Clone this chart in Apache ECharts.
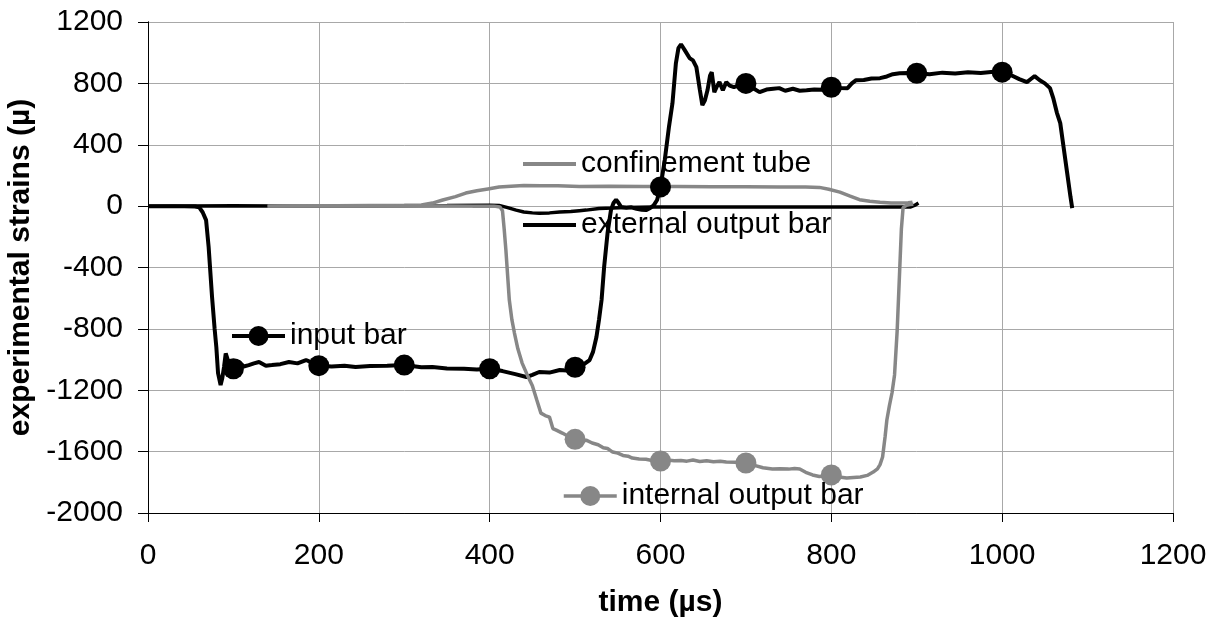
<!DOCTYPE html>
<html>
<head>
<meta charset="utf-8">
<script src="https://cdn.jsdelivr.net/npm/echarts@6/dist/echarts.min.js"></script>
<style>
  html, body { margin: 0; padding: 0; background: #fff; }
  #chart { width: 1218px; height: 628px; }
</style>
</head>
<body>
<div id="chart"></div>
<script>
// [time (µs), strain (µ)]
const inputBar = [
  [0, 0], [30, 0], [55, -2], [60, -8], [64, -40], [68, -91], [71, -267], [75, -593], [78, -800], [80, -919],
  [82, -1088], [85, -1166], [87, -1120], [89, -1049], [91, -960], [93, -951], [95, -1030], [97, -1088],
  [100, -1060], [103, -1010], [107, -1016], [112, -1045], [118, -1036], [124, -1025], [130, -1016],
  [138, -1040], [145, -1036], [155, -1030], [165, -1016], [175, -1025], [185, -1003], [192, -1020],
  [200, -1040], [215, -1045], [230, -1040], [243, -1049], [260, -1042], [280, -1040], [300, -1036],
  [320, -1050], [333, -1049], [350, -1058], [370, -1060], [385, -1065], [400, -1060], [415, -1075],
  [430, -1095], [443, -1114], [450, -1100], [458, -1081], [470, -1085], [482, -1068], [490, -1072],
  [500, -1050], [508, -1040], [517, -1003], [521, -950], [525, -853], [528, -740], [531, -612],
  [534, -397], [538, -176], [542, -26], [545, 20], [548, 42], [551, 20], [554, -6], [560, -10],
  [566, -8], [572, -18], [578, -24], [583, -26], [588, -12], [592, 5], [596, 40], [600, 125],
  [605, 300], [610, 520], [614, 670], [618, 930], [621, 1030], [624, 1055], [628, 1020], [634, 965],
  [638, 950], [642, 906], [646, 760], [649, 658], [652, 690], [655, 755], [658, 850], [660, 873],
  [663, 743], [666, 780], [669, 808], [673, 755], [677, 808], [681, 785], [686, 775], [692, 790],
  [700, 800], [708, 770], [716, 743], [724, 760], [732, 765], [739, 769], [746, 752], [755, 765],
  [763, 752], [771, 755], [780, 760], [790, 758], [800, 775], [810, 770], [819, 769], [824, 800],
  [829, 821], [838, 822], [847, 832], [857, 834], [865, 845], [872, 860], [880, 866], [890, 868],
  [900, 866], [915, 860], [930, 870], [945, 865], [960, 872], [975, 868], [990, 875], [1000, 873],
  [1010, 855], [1020, 828], [1029, 808], [1034, 830], [1038, 847], [1044, 820], [1050, 800],
  [1056, 769], [1060, 700], [1064, 610], [1068, 541], [1072, 380], [1076, 220], [1080, 60], [1082, -13]
];

const externalOutputBar = [
  [0, 0], [100, 2], [200, 0], [300, 3], [350, 4], [400, 6], [411, 4], [420, -8], [431, -26],
  [440, -38], [450, -44], [458, -46], [470, -44], [482, -39], [495, -35], [505, -30], [513, -26],
  [528, -15], [544, -13], [560, -9], [575, -7], [591, -6], [650, -6], [700, -6], [750, -6],
  [800, -6], [850, -6], [880, -6], [893, -5], [898, 6], [902, 20]
];

const confinementTube = [
  [140, 0], [180, 2], [220, 3], [260, 4], [300, 5], [320, 8], [333, 20], [345, 40], [360, 62],
  [372, 85], [385, 100], [398, 112], [411, 124], [425, 130], [440, 134], [460, 133], [480, 132],
  [505, 128], [540, 130], [580, 128], [620, 128], [660, 127], [700, 126], [740, 125], [770, 124],
  [786, 122], [797, 110], [810, 91], [822, 65], [833, 42], [845, 32], [857, 26], [870, 21],
  [880, 20], [890, 22], [895, 26]
];

const internalOutputBar = [
  [140, 0], [200, 2], [260, 0], [320, 2], [380, 0], [405, 0], [412, -5], [415, -30], [417, -150],
  [419, -287], [421, -450], [423, -612], [426, -740], [429, -827], [433, -930], [438, -1023],
  [444, -1100], [450, -1170], [455, -1260], [460, -1349], [465, -1365], [470, -1375], [474, -1450],
  [478, -1460], [485, -1479], [492, -1500], [500, -1520], [508, -1535], [513, -1525], [520, -1544],
  [527, -1555], [533, -1575], [538, -1580], [544, -1603], [550, -1610], [556, -1625], [562, -1630],
  [567, -1642], [575, -1648], [583, -1650], [590, -1658], [600, -1661], [608, -1655], [616, -1660],
  [624, -1658], [631, -1662], [638, -1655], [646, -1664], [654, -1660], [662, -1666], [670, -1663],
  [677, -1668], [688, -1670], [700, -1674], [710, -1690], [720, -1705], [731, -1713], [740, -1712],
  [750, -1714], [757, -1710], [763, -1713], [770, -1735], [778, -1752], [786, -1762], [800, -1752],
  [809, -1765], [818, -1772], [826, -1768], [834, -1765], [842, -1755], [849, -1733], [854, -1712],
  [857, -1685], [860, -1635], [863, -1500], [865, -1394], [868, -1300], [871, -1218], [874, -1100],
  [877, -820], [880, -420], [882, -150], [884, -10], [888, 5], [892, 10], [896, 12]
];

const inputMarkers = [100, 200, 300, 400, 500, 600, 700, 800, 900, 1000];
const internalMarkers = [500, 600, 700, 800];

const xTicks = { min: 0, max: 1200, interval: 200 };
const yTicks = { min: -2000, max: 1200, interval: 400 };

const FONT = "'Liberation Sans', Arial, sans-serif";
const GRAY = '#878787';
const GRID = '#a8a8a8';

const chart = echarts.init(document.getElementById('chart'));

function markerSize(list, size) {
  return function (val) {
    return list.indexOf(val[0]) >= 0 ? size : 0;
  };
}

function legendAt(name, left, top, opts) {
  return Object.assign({
    data: [name],
    left: left,
    top: top,
    padding: 0,
    itemWidth: 53,
    itemHeight: 4,
    icon: 'rect',
    textStyle: { fontFamily: FONT, fontSize: 30, color: '#000', lineHeight: 30 },
    selectedMode: false
  }, opts || {});
}

const plain = function (v) { return String(v); };

chart.setOption({
  animation: false,
  backgroundColor: '#fff',
  textStyle: { fontFamily: FONT },
  grid: { left: 148, right: 45, top: 22, bottom: 115, containLabel: false, outerBoundsMode: 'none' },
  legend: [
    legendAt('confinement tube', 523, 149),
    legendAt('external output bar', 523, 210),
    legendAt('input bar', 230, 321, { icon: null, itemHeight: 25, lineStyle: { width: 4 } }),
    legendAt('internal output bar', 562, 481, { icon: null, itemHeight: 25, lineStyle: { width: 3.5 } })
  ],
  xAxis: {
    type: 'value',
    min: xTicks.min,
    max: xTicks.max,
    interval: xTicks.interval,
    name: 'time (µs)',
    nameLocation: 'middle',
    nameGap: 75,
    nameTextStyle: { fontFamily: FONT, fontSize: 30, fontWeight: 'bold', color: '#000' },
    axisLine: { onZero: false, lineStyle: { color: '#000', width: 1 } },
    axisTick: { length: 9, lineStyle: { color: '#000' } },
    axisLabel: { margin: 28, fontFamily: FONT, fontSize: 30, color: '#000', formatter: plain },
    splitLine: { show: true, lineStyle: { color: GRID, width: 1 } }
  },
  yAxis: [
    {
      type: 'value',
      min: yTicks.min,
      max: yTicks.max,
      interval: yTicks.interval,
      name: 'experimental strains (µ)',
      nameLocation: 'middle',
      nameGap: 99,
      nameTextStyle: { fontFamily: FONT, fontSize: 30, fontWeight: 'bold', color: '#000' },
      axisLine: { show: true, onZero: false, lineStyle: { color: '#000', width: 1 } },
      axisTick: { show: true, length: 10, lineStyle: { color: '#000' } },
      axisLabel: { margin: 25, fontFamily: FONT, fontSize: 30, color: '#000', formatter: plain },
      splitLine: { show: true, lineStyle: { color: GRID, width: 1 } }
    },
    {
      type: 'value',
      position: 'right',
      min: yTicks.min,
      max: yTicks.max,
      interval: yTicks.interval,
      axisLine: { show: true, lineStyle: { color: '#000', width: 1 } },
      axisTick: { show: false },
      axisLabel: { show: false },
      splitLine: { show: false }
    }
  ],
  series: [
    {
      name: 'external output bar',
      type: 'line',
      data: externalOutputBar,
      symbol: 'none',
      color: '#000',
      lineStyle: { color: '#000', width: 3.5 }
    },
    {
      name: 'confinement tube',
      type: 'line',
      data: confinementTube,
      symbol: 'none',
      color: GRAY,
      lineStyle: { color: GRAY, width: 3.5 }
    },
    {
      name: 'input bar',
      type: 'line',
      data: inputBar,
      symbol: 'circle',
      symbolSize: markerSize(inputMarkers, 21),
      showAllSymbol: true,
      color: '#000',
      itemStyle: { color: '#000' },
      lineStyle: { color: '#000', width: 4 }
    },
    {
      name: 'internal output bar',
      type: 'line',
      data: internalOutputBar,
      symbol: 'circle',
      symbolSize: markerSize(internalMarkers, 21),
      showAllSymbol: true,
      color: GRAY,
      itemStyle: { color: GRAY },
      lineStyle: { color: GRAY, width: 3.5 }
    }
  ]
});
</script>
</body>
</html>
